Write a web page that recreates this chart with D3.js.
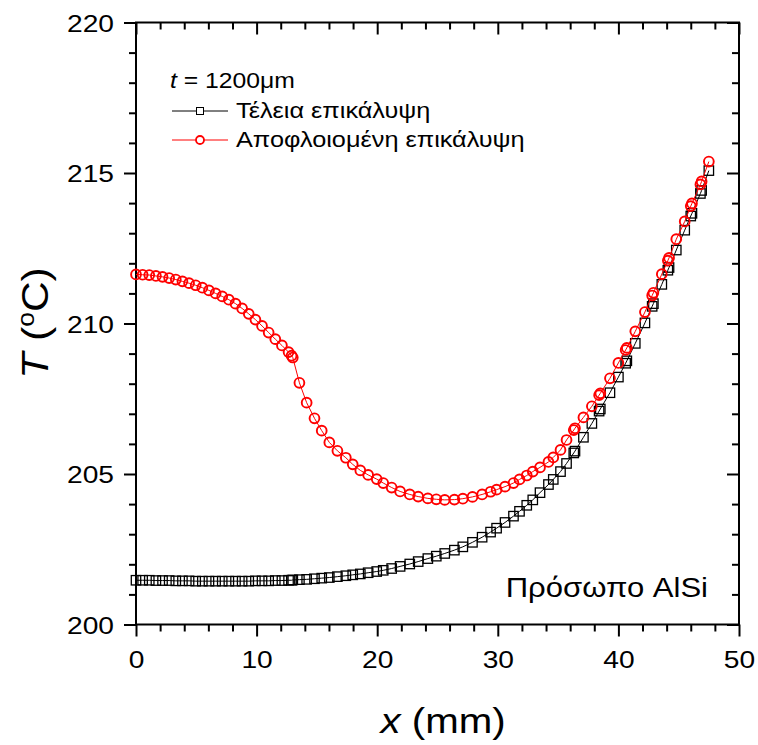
<!DOCTYPE html>
<html>
<head>
<meta charset="utf-8">
<script src="https://cdn.jsdelivr.net/npm/d3@7"></script>
<style>
  body { margin: 0; background: #fff; }
  svg { display: block; }
  text { font-family: Arial, "Liberation Sans", sans-serif; fill: #000; }
</style>
</head>
<body>
<svg id="chart" width="758" height="745"></svg>
<script>
// Position along the face (mm)
const xPos = [
  0, 0.55, 1.1, 1.65, 2.2, 2.75, 3.3, 3.85, 4.4, 4.95, 5.5, 6.05, 6.6, 7.15, 7.7,
  8.25, 8.8, 9.35, 9.9, 10.45, 11.0, 11.55, 12.1, 12.65, 12.9, 13.0,
  13.55, 14.15, 14.8, 15.4, 16.03, 16.7, 17.4, 17.97, 18.6, 19.25, 19.96, 20.5, 21.2,
  21.9, 22.7, 23.4, 24.2, 24.9, 25.6, 26.4, 27.1, 27.9, 28.7, 29.4, 29.9, 30.6, 31.3,
  31.8, 32.4, 32.9, 33.5, 34.2, 34.6, 35.2, 35.7, 36.3, 36.4, 37.1, 37.8, 38.4, 38.5,
  39.3, 40.0, 40.6, 40.7, 41.4, 42.2, 42.8, 42.9, 43.6, 44.1, 44.2, 44.8, 45.5, 46.0,
  46.1, 46.8, 46.9, 47.5
];

// Temperature, intact coating (°C)
const tPerfect = [
  201.47, 201.47, 201.47, 201.46, 201.46, 201.46, 201.45, 201.45, 201.45, 201.44, 201.44,
  201.44, 201.44, 201.44, 201.44, 201.44, 201.44, 201.44, 201.45, 201.45, 201.45, 201.46,
  201.46, 201.47, 201.47, 201.48,
  201.49, 201.50, 201.52, 201.54, 201.56, 201.59, 201.62, 201.65, 201.68, 201.72,
  201.76, 201.80, 201.86, 201.93, 202.01, 202.09, 202.19, 202.27, 202.36, 202.47,
  202.58, 202.73, 202.90, 203.07, 203.20, 203.39, 203.60, 203.76, 203.96, 204.14,
  204.38, 204.65, 204.82, 205.08, 205.35, 205.70, 205.76, 206.22, 206.68, 207.09,
  207.16, 207.70, 208.22, 208.68, 208.76, 209.34, 210.02, 210.57, 210.66, 211.30,
  211.77, 211.86, 212.44, 213.10, 213.57, 213.66, 214.32, 214.42, 215.08
];

// Temperature, delaminated coating (°C)
const tPeeled = [
  211.63, 211.62, 211.61, 211.58, 211.55, 211.51, 211.46, 211.40, 211.34, 211.27, 211.19,
  211.10, 211.00, 210.90, 210.79, 210.66, 210.50, 210.32, 210.13, 209.92, 209.70, 209.48,
  209.27, 209.05, 208.93, 208.87,
  208.03, 207.37, 206.85, 206.44, 206.05, 205.77, 205.54, 205.32, 205.12, 204.97,
  204.83, 204.70, 204.55, 204.42, 204.32, 204.25, 204.19, 204.16, 204.14, 204.15,
  204.18, 204.24, 204.32, 204.41, 204.48, 204.58, 204.70, 204.82, 204.95, 205.08,
  205.22, 205.40, 205.55, 205.80, 206.13, 206.46, 206.52, 206.88, 207.25, 207.62,
  207.68, 208.18, 208.69, 209.12, 209.19, 209.74, 210.38, 210.93, 211.02, 211.64,
  212.09, 212.18, 212.80, 213.39, 213.90, 213.99, 214.62, 214.72, 215.38
];

const xTicks = [0, 10, 20, 30, 40, 50];
const yTicks = [200, 205, 210, 215, 220];
const seriesNames = ["Τέλεια επικάλυψη", "Αποφλοιομένη επικάλυψη"];
const thicknessLabel = "1200μm";
const faceLabel = "Πρόσωπο AlSi";

const SX = 1.15; // horizontal text stretch
const pLeft = 136, pRight = 739, pTop = 22.5, pBottom = 624.5;

const svg = d3.select("#chart");
const x = d3.scaleLinear().domain([0, 50]).range([pLeft, pRight]);
const y = d3.scaleLinear().domain([200, 220]).range([pBottom, pTop]);

function styleAxis(g) {
  g.select(".domain").remove();
  g.selectAll(".tick line").attr("stroke", "#000").attr("stroke-width", 2);
}

// minor ticks
const xMinor = x.ticks(25).filter(v => !xTicks.includes(v));
const yMinor = y.ticks(20).filter(v => !yTicks.includes(v));

// bottom (outward)
svg.append("g").attr("transform", `translate(0,${pBottom})`)
  .call(d3.axisBottom(x).tickValues(xMinor).tickSize(7).tickFormat("").tickSizeOuter(0)).call(styleAxis);
const gb = svg.append("g").attr("transform", `translate(0,${pBottom})`)
  .call(d3.axisBottom(x).tickValues(xTicks).tickSize(12).tickSizeOuter(0)).call(styleAxis);
gb.selectAll("text").attr("y", 43.5).attr("dy", 0).attr("font-size", 24.5)
  .attr("transform", `scale(${SX},1)`).style("font-family", "Arial, 'Liberation Sans', sans-serif");

// left (outward)
svg.append("g").attr("transform", `translate(${pLeft},0)`)
  .call(d3.axisLeft(y).tickValues(yMinor).tickSize(7).tickFormat("").tickSizeOuter(0)).call(styleAxis);
const gl = svg.append("g").attr("transform", `translate(${pLeft},0)`)
  .call(d3.axisLeft(y).tickValues(yTicks).tickSize(12).tickSizeOuter(0)).call(styleAxis);
gl.selectAll("text").attr("x", -22 / SX).attr("dy", "0.36em").attr("font-size", 24.5)
  .attr("transform", `scale(${SX},1)`).style("font-family", "Arial, 'Liberation Sans', sans-serif");

// top and right (inward)
svg.append("g").attr("transform", `translate(0,${pTop})`)
  .call(d3.axisTop(x).tickValues(xMinor).tickSize(-7).tickFormat("").tickSizeOuter(0)).call(styleAxis);
svg.append("g").attr("transform", `translate(0,${pTop})`)
  .call(d3.axisTop(x).tickValues(xTicks).tickSize(-12).tickFormat("").tickSizeOuter(0)).call(styleAxis);
svg.append("g").attr("transform", `translate(${pRight},0)`)
  .call(d3.axisRight(y).tickValues(yMinor).tickSize(-7).tickFormat("").tickSizeOuter(0)).call(styleAxis);
svg.append("g").attr("transform", `translate(${pRight},0)`)
  .call(d3.axisRight(y).tickValues(yTicks).tickSize(-12).tickFormat("").tickSizeOuter(0)).call(styleAxis);

// frame
svg.append("rect").attr("x", pLeft).attr("y", pTop)
  .attr("width", pRight - pLeft).attr("height", pBottom - pTop)
  .attr("fill", "none").attr("stroke", "#000").attr("stroke-width", 2);

// series
const line = d3.line().x(d => x(d[0])).y(d => y(d[1]));
const perfect = xPos.map((v, i) => [v, tPerfect[i]]);
const peeled = xPos.map((v, i) => [v, tPeeled[i]]);

const plot = svg.append("g");
plot.append("path").datum(perfect).attr("d", line)
  .attr("fill", "none").attr("stroke", "#000").attr("stroke-width", 1);
plot.selectAll("rect.sq").data(perfect).join("rect").attr("class", "sq")
  .attr("x", d => x(d[0]) - 4.7).attr("y", d => y(d[1]) - 4.7)
  .attr("width", 9.4).attr("height", 9.4)
  .attr("fill", "none").attr("stroke", "#000").attr("stroke-width", 1.3);

plot.append("path").datum(peeled).attr("d", line)
  .attr("fill", "none").attr("stroke", "#f00").attr("stroke-width", 1);
plot.selectAll("circle.ci").data(peeled).join("circle").attr("class", "ci")
  .attr("cx", d => x(d[0])).attr("cy", d => y(d[1])).attr("r", 4.9)
  .attr("fill", "none").attr("stroke", "#f00").attr("stroke-width", 1.9);

// legend
function stretchedText(px, py, size) {
  return svg.append("text").attr("transform", `translate(${px},${py}) scale(${SX},1)`)
    .attr("font-size", size);
}
const tt = stretchedText(170, 88, 21.5);
tt.append("tspan").attr("font-style", "italic").text("t");
tt.append("tspan").text(" = " + thicknessLabel);

const lg = svg.append("g");
lg.append("line").attr("x1", 172).attr("x2", 228).attr("y1", 111).attr("y2", 111)
  .attr("stroke", "#000").attr("stroke-width", 1);
lg.append("rect").attr("x", 196.5).attr("y", 107.5).attr("width", 7).attr("height", 7)
  .attr("fill", "#fff").attr("stroke", "#000").attr("stroke-width", 1);
lg.append("line").attr("x1", 172).attr("x2", 228).attr("y1", 140).attr("y2", 140)
  .attr("stroke", "#f00").attr("stroke-width", 1);
lg.append("circle").attr("cx", 200).attr("cy", 140).attr("r", 4)
  .attr("fill", "#fff").attr("stroke", "#f00").attr("stroke-width", 1.8);
stretchedText(236, 118, 22).text(seriesNames[0]);
stretchedText(236, 147, 22).text(seriesNames[1]);

// face annotation
stretchedText(708, 597, 27).attr("text-anchor", "end").text(faceLabel);

// axis titles
const xt = stretchedText(443, 733, 35).attr("text-anchor", "middle");
xt.append("tspan").attr("font-style", "italic").text("x");
xt.append("tspan").text(" (mm)");

const yt = svg.append("text").attr("transform", `translate(48,323) rotate(-90) scale(${SX},1)`)
  .attr("font-size", 37).attr("text-anchor", "middle");
yt.append("tspan").attr("font-style", "italic").text("T");
yt.append("tspan").text(" (");
yt.append("tspan").attr("font-size", 23).attr("dy", -14).text("o");
yt.append("tspan").attr("dy", 14).text("C)");
</script>
</body>
</html>
